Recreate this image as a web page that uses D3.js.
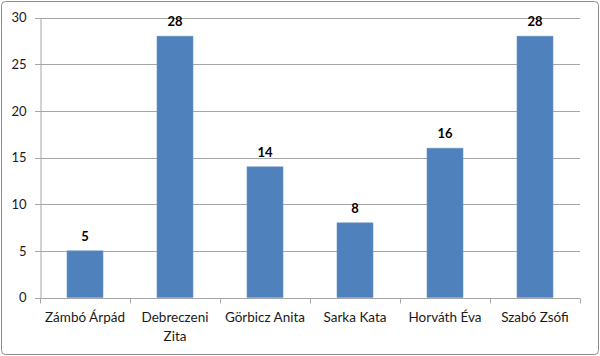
<!DOCTYPE html>
<html><head><meta charset="utf-8">
<script src="https://cdn.jsdelivr.net/npm/d3@7"></script>
<style>body{margin:0;background:#fff}svg{display:block}</style>
</head><body>
<script>
const categories = ["Zámbó Árpád", "Debreczeni Zita", "Görbicz Anita", "Sarka Kata", "Horváth Éva", "Szabó Zsófi"];
const values = [5, 28, 14, 8, 16, 28];
const yTicks = [0, 5, 10, 15, 20, 25, 30];

const W = 600, H = 356;
const m = {left: 40, right: 20, top: 17.5, bottom: 58.5};
const svg = d3.select("body").append("svg").attr("width", W).attr("height", H);
svg.append("rect").attr("x", 1.5).attr("y", 1.5).attr("width", W - 3).attr("height", H - 3)
  .attr("rx", 4).attr("fill", "#fff").attr("stroke", "#8c8c8c").attr("stroke-width", 1);

const x = d3.scaleBand().domain(categories).range([m.left, W - m.right]).paddingInner(0.6).paddingOuter(0.3);
const y = d3.scaleLinear().domain([0, 30]).range([H - m.bottom, m.top]);
const font = "Lato, 'Noto Sans', sans-serif";

// gridlines
svg.append("g").selectAll("line").data(yTicks).join("line")
  .attr("x1", m.left - 5).attr("x2", W - m.right)
  .attr("y1", d => Math.round(y(d)) + 0.5).attr("y2", d => Math.round(y(d)) + 0.5)
  .attr("stroke", "#a6a6a6").attr("stroke-width", 1);

// y axis
const ya = svg.append("g").attr("transform", `translate(${m.left + 0.5},0)`)
  .call(d3.axisLeft(y).tickValues(yTicks).tickSize(0).tickPadding(14));
ya.select(".domain").attr("stroke", "#a6a6a6");
ya.selectAll("text").attr("font-family", font).attr("font-size", 13).attr("fill", "#1a1a1a");

// bars
svg.append("g").selectAll("rect").data(values).join("rect")
  .attr("x", (d, i) => x(categories[i]))
  .attr("width", x.bandwidth())
  .attr("y", d => y(d))
  .attr("height", d => y(0) - y(d))
  .attr("fill", "#4f81bd").attr("stroke", "#6f97c9").attr("stroke-width", 0.6);

// value labels
svg.append("g").selectAll("text").data(values).join("text")
  .attr("x", (d, i) => x(categories[i]) + x.bandwidth() / 2)
  .attr("y", d => y(d) - 10)
  .attr("text-anchor", "middle")
  .attr("font-family", font).attr("font-size", 13).attr("font-weight", "bold").attr("fill", "#000")
  .text(d => d);

// x axis
const step = (W - m.left - m.right) / categories.length;
const xa = svg.append("g").attr("transform", `translate(0,${Math.round(y(0)) + 0.5})`);
xa.append("line").attr("x1", m.left).attr("x2", W - m.right).attr("stroke", "#a6a6a6");
xa.selectAll(".tk").data(d3.range(categories.length + 1)).join("line").attr("class", "tk")
  .attr("x1", i => Math.round(m.left + i * step) + 0.5).attr("x2", i => Math.round(m.left + i * step) + 0.5)
  .attr("y1", 0).attr("y2", 5).attr("stroke", "#a6a6a6");

const labelLines = {"Debreczeni Zita": ["Debreczeni", "Zita"]};
xa.selectAll(".cl").data(categories).join("text").attr("class", "cl")
  .attr("text-anchor", "middle")
  .attr("font-family", font).attr("font-size", 13.5).attr("fill", "#1a1a1a")
  .each(function(c) {
    const lines = labelLines[c] || [c];
    const t = d3.select(this);
    lines.forEach((l, k) => t.append("tspan")
      .attr("x", x(c) + x.bandwidth() / 2).attr("y", 23 + k * 19).text(l));
  });
</script>
</body></html>
